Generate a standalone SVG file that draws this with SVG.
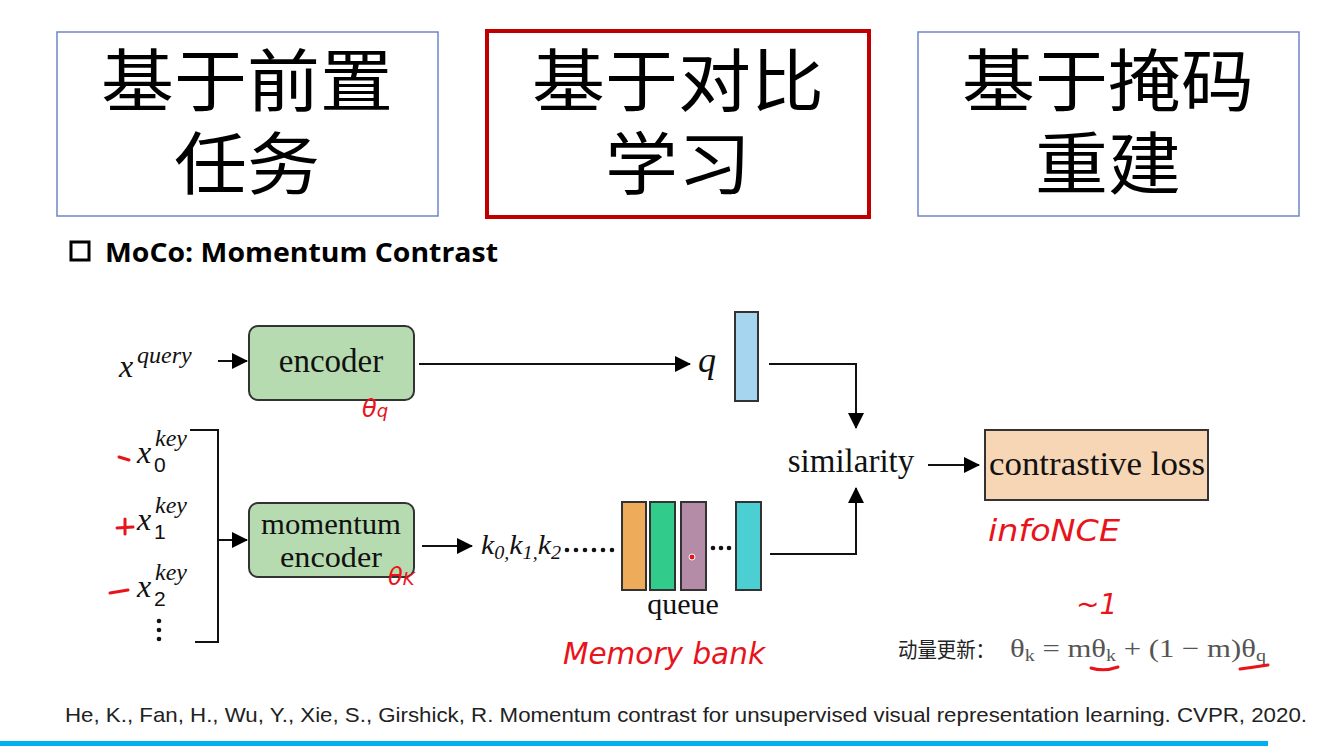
<svg xmlns="http://www.w3.org/2000/svg" width="1329" height="747" viewBox="0 0 1329 747">
<style>
.cjk{font-family:"Liberation Sans","Noto Sans CJK SC",sans-serif;}
.big{font-size:68px;fill:#000;text-anchor:middle;}
.serif{font-family:"Liberation Serif","Times New Roman",serif;fill:#111;}
.ital{font-style:italic;}
.box{stroke:#333;stroke-width:2;}
.line{stroke:#111;stroke-width:2;fill:none;}
.red{font-family:"DejaVu Sans","Liberation Sans",sans-serif;font-style:oblique;fill:#e8141c;}
.redl{stroke:#e8141c;stroke-width:3;fill:none;stroke-linecap:round;}
</style>
<defs>
<marker id="ahb" markerWidth="16" markerHeight="16" refX="15" refY="8" orient="auto" markerUnits="userSpaceOnUse" viewBox="0 0 16 16">
<path d="M0,0 L16,8 L0,16 Z" fill="#000"/>
</marker>
</defs>
<rect width="1329" height="747" fill="#fff"/>

<g id="cat1">
<rect x="57" y="32" width="381" height="184" fill="#fff" stroke="#6d86c6" stroke-width="1.5"/>
<text class="cjk big" x="247" y="106" textLength="292" lengthAdjust="spacingAndGlyphs">基于前置</text>
<text class="cjk big" x="247" y="189" textLength="146" lengthAdjust="spacingAndGlyphs">任务</text>
</g>
<g id="cat2">
<rect x="487" y="31" width="382" height="186" fill="#fff" stroke="#c00000" stroke-width="4"/>
<text class="cjk big" x="678" y="106" textLength="292" lengthAdjust="spacingAndGlyphs">基于对比</text>
<text class="cjk big" x="678" y="189" textLength="146" lengthAdjust="spacingAndGlyphs">学习</text>
</g>
<g id="cat3">
<rect x="918" y="32" width="381" height="184" fill="#fff" stroke="#6d86c6" stroke-width="1.5"/>
<text class="cjk big" x="1108" y="106" textLength="292" lengthAdjust="spacingAndGlyphs">基于掩码</text>
<text class="cjk big" x="1108" y="189" textLength="146" lengthAdjust="spacingAndGlyphs">重建</text>
</g>

<g id="title">
<rect x="71" y="242" width="18" height="18" fill="none" stroke="#000" stroke-width="3"/>
<text x="105" y="262" font-family="Open Sans,Noto Sans,sans-serif" font-weight="bold" font-size="27" fill="#000" textLength="393" lengthAdjust="spacingAndGlyphs">MoCo: Momentum Contrast</text>
</g>

<g id="inputs">
<text class="serif ital" x="119" y="377" font-size="32">x<tspan x="137" y="363" font-size="24">query</tspan></text>
<text class="serif ital" x="137" y="463" font-size="32">x<tspan x="155" y="446" font-size="24">key</tspan><tspan x="154" y="472" font-size="21" font-style="normal" font-family="Liberation Sans,sans-serif">0</tspan></text>
<text class="serif ital" x="137" y="530" font-size="32">x<tspan x="155" y="513" font-size="24">key</tspan><tspan x="154" y="539" font-size="21" font-style="normal" font-family="Liberation Sans,sans-serif">1</tspan></text>
<text class="serif ital" x="137" y="597" font-size="32">x<tspan x="155" y="580" font-size="24">key</tspan><tspan x="154" y="606" font-size="21" font-style="normal" font-family="Liberation Sans,sans-serif">2</tspan></text>
<circle cx="159" cy="621" r="2.3" fill="#111"/>
<circle cx="159" cy="630" r="2.3" fill="#111"/>
<circle cx="159" cy="639" r="2.3" fill="#111"/>
</g>

<g id="encoder">
<rect class="box" x="249" y="326" width="165" height="74" rx="9" fill="#b7dbb0"/>
<text class="serif" x="331" y="372" font-size="33" text-anchor="middle">encoder</text>
</g>
<g id="momentum-encoder">
<rect class="box" x="249" y="503" width="165" height="74" rx="9" fill="#b7dbb0"/>
<text class="serif" x="331" y="534" font-size="29" text-anchor="middle" textLength="140" lengthAdjust="spacingAndGlyphs">momentum</text>
<text class="serif" x="331" y="567" font-size="29" text-anchor="middle" textLength="102" lengthAdjust="spacingAndGlyphs">encoder</text>
</g>
<g id="q">
<text class="serif ital" x="698" y="372" font-size="36">q</text>
<rect class="box" x="735" y="312" width="23" height="89" fill="#a6d5ef"/>
</g>
<g id="keys">
<text class="serif ital" x="481" y="554" font-size="28" textLength="80" lengthAdjust="spacingAndGlyphs">k<tspan font-size="19" dy="5">0,</tspan><tspan dy="-5">k</tspan><tspan font-size="19" dy="5">1,</tspan><tspan dy="-5">k</tspan><tspan font-size="19" dy="5">2</tspan></text>
<g fill="#111">
<circle cx="567" cy="550" r="2.3"/><circle cx="576" cy="550" r="2.3"/><circle cx="585" cy="550" r="2.3"/><circle cx="594" cy="550" r="2.3"/><circle cx="603" cy="550" r="2.3"/><circle cx="612" cy="550" r="2.3"/>
<circle cx="713" cy="548" r="2.3"/><circle cx="721" cy="548" r="2.3"/><circle cx="729" cy="548" r="2.3"/>
</g>
</g>
<g id="queue">
<rect class="box" x="622" y="502" width="24" height="88" fill="#eeac5b"/>
<rect class="box" x="650" y="502" width="25" height="88" fill="#31cb8b"/>
<rect class="box" x="681" y="502" width="25" height="88" fill="#b48ca8"/>
<rect class="box" x="736" y="502" width="25" height="88" fill="#4ccfd3"/>
<circle cx="692" cy="557" r="3" fill="#e8141c" stroke="#fff" stroke-width="1"/>
<text class="serif" x="683" y="614" font-size="30" text-anchor="middle">queue</text>
</g>
<g id="similarity">
<text class="serif" x="851" y="472" font-size="33" text-anchor="middle">similarity</text>
</g>
<g id="contrastive-loss">
<rect class="box" x="985" y="430" width="223" height="70" fill="#f6d6b4"/>
<text class="serif" x="1097" y="475" font-size="33" text-anchor="middle" textLength="216" lengthAdjust="spacingAndGlyphs">contrastive loss</text>
</g>

<g id="connectors">
<line class="line" x1="218" y1="361" x2="247" y2="361" marker-end="url(#ahb)"/>
<polyline class="line" points="190,430 218,430 218,642 195,642"/>
<line class="line" x1="218" y1="540" x2="247" y2="540" marker-end="url(#ahb)"/>
<line class="line" x1="419" y1="364" x2="690" y2="364" marker-end="url(#ahb)"/>
<polyline class="line" points="769,364 856,364 856,428" marker-end="url(#ahb)"/>
<line class="line" x1="422" y1="546" x2="472" y2="546" marker-end="url(#ahb)"/>
<polyline class="line" points="770,554 856,554 856,488" marker-end="url(#ahb)"/>
<line class="line" x1="928" y1="465" x2="979" y2="465" marker-end="url(#ahb)"/>
</g>

<g id="formula">
<text x="898" y="657" font-family="Liberation Sans,Noto Sans CJK SC,sans-serif" font-size="21" fill="#222" textLength="97" lengthAdjust="spacingAndGlyphs">动量更新：</text>
<text x="1010" y="657" font-family="Liberation Serif,serif" font-size="26" fill="#555" textLength="256" lengthAdjust="spacingAndGlyphs">θ<tspan font-size="17" dy="4">k</tspan><tspan dy="-4">  = mθ</tspan><tspan font-size="17" dy="4">k</tspan><tspan dy="-4"> + (1 − m)θ</tspan><tspan font-size="17" dy="4">q</tspan></text>
</g>

<g id="annotations">
<text class="red" x="362" y="417" font-size="24">θ<tspan font-size="18">q</tspan></text>
<text class="red" x="388" y="585" font-size="24">θ<tspan font-size="18">K</tspan></text>
<line class="redl" x1="119" y1="457" x2="129" y2="460"/>
<line class="redl" x1="117" y1="528" x2="133" y2="527"/>
<line class="redl" x1="125" y1="519" x2="125" y2="534"/>
<line class="redl" x1="110" y1="593" x2="128" y2="590"/>
<text class="red" x="563" y="664" font-size="30" textLength="202" lengthAdjust="spacingAndGlyphs">Memory bank</text>
<text class="red" x="988" y="541" font-size="31" textLength="132" lengthAdjust="spacingAndGlyphs">infoNCE</text>
<text class="red" x="1076" y="614" font-size="28">~1</text>
<path class="redl" d="M1091,668 Q1104,672 1118,667"/>
<path class="redl" d="M1240,669 Q1255,667 1268,665"/>
</g>

<g id="citation">
<text x="65" y="722" font-family="Liberation Sans,Arial,sans-serif" font-size="21" fill="#222" textLength="1242" lengthAdjust="spacingAndGlyphs">He, K., Fan, H., Wu, Y., Xie, S., Girshick, R. Momentum contrast for unsupervised visual representation learning. CVPR, 2020.</text>
</g>
<rect x="0" y="741" width="1268" height="5" fill="#00b0f0"/>
</svg>
